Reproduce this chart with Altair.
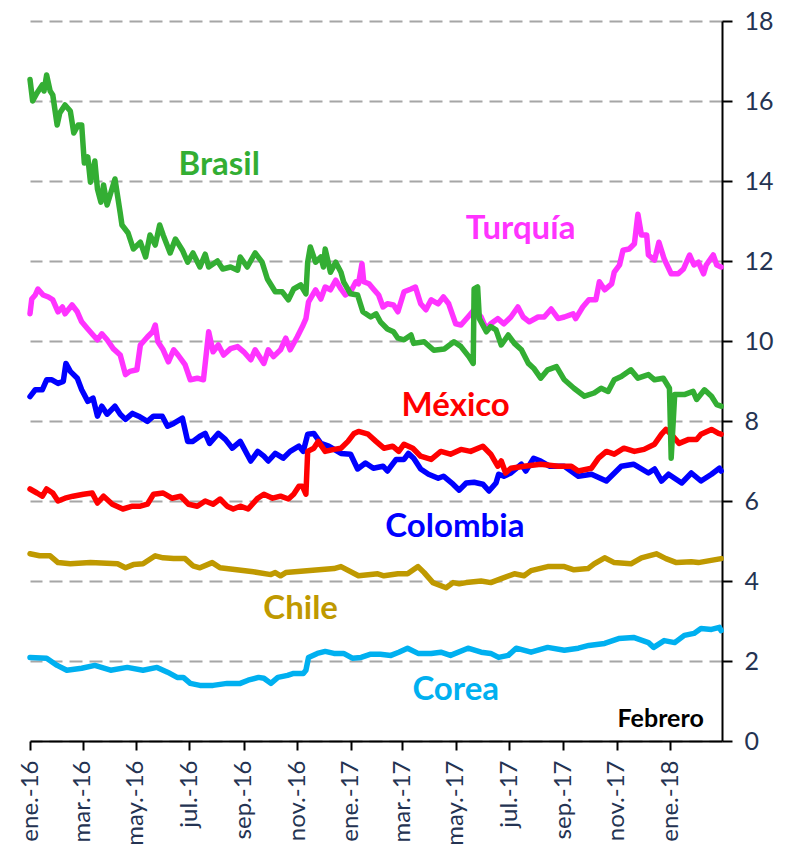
import altair as alt
import pandas as pd

# (days since 2016-01-01, rate %)
BRASIL = [(0,16.54),(3,16.0),(8,16.2),(14,16.4),(16,16.25),(19,16.65),(23,16.25),(26,16.15),(31,15.4),(34,15.7),
          (40,15.9),(46,15.75),(50,15.2),(55,15.4),(59,15.4),(62,14.45),(66,14.6),(69,13.97),(74,14.5),(77,13.8),
          (81,13.47),(84,13.9),(88,13.4),(97,14.05),(103,13.2),(105,12.9),(112,12.7),(118,12.3),(126,12.47),(132,12.1),
          (137,12.65),(143,12.4),(148,12.9),(152,12.65),(160,12.2),(166,12.55),(174,12.27),(180,11.97),(186,12.2),(194,11.85),
          (200,12.17),(204,11.85),(214,12.0),(220,11.8),(229,11.85),(237,11.77),(240,12.1),(248,11.85),(257,12.2),(265,11.97),
          (271,11.55),(280,11.23),(288,11.23),(295,11.03),(301,11.3),(309,11.4),(315,11.18),(317,11.97),(320,12.35),(326,11.97),
          (332,12.1),(335,11.85),(337,12.3),(343,11.72),(349,11.97),(355,11.72),(358,11.48),(366,11.18),(374,11.15),(380,10.73),
          (389,10.6),(395,10.68),(400,10.48),(408,10.3),(415,10.23),(420,10.07),(427,10.03),(435,10.15),(438,9.94),(450,9.98),
          (461,9.77),(473,9.8),(484,9.98),(492,9.86),(501,9.61),(506,9.44),(507,11.3),(511,11.35),(513,10.56),(521,10.23),
          (526,10.36),(532,10.28),(538,9.9),(546,10.15),(553,9.94),(561,9.78),(569,9.44),(575,9.32),(583,9.07),(591,9.28),
          (601,9.36),(610,9.03),(621,8.82),(633,8.62),(644,8.7),(652,8.82),(660,8.74),(667,9.03),(675,9.11),(686,9.28),
          (694,9.07),(706,9.16),(713,9.03),(723,9.07),(730,8.82),(732,7.07),(736,8.66),(747,8.66),(757,8.74),(761,8.54),
          (770,8.78),(778,8.62),(784,8.41),(789,8.37)]

TURQUIA = [(0,10.68),(2,11.05),(6,11.15),(9,11.3),(15,11.15),(21,11.1),(26,11.03),(32,10.73),(37,10.85),(40,10.68),
           (48,10.9),(54,10.73),(59,10.48),(66,10.3),(72,10.15),(77,10.03),(82,10.18),(88,10.03),(95,9.81),(103,9.65),
           (109,9.16),(114,9.24),(122,9.28),(126,9.9),(134,10.1),(140,10.23),(143,10.4),(146,9.98),(152,9.78),(158,9.48),
           (164,9.78),(169,9.65),(177,9.41),(183,9.03),(191,9.07),(198,9.03),(204,10.23),(209,9.73),(215,9.9),(221,9.65),
           (229,9.81),(237,9.86),(244,9.73),(252,9.53),(257,9.78),(267,9.44),(272,9.78),(278,9.61),(286,9.78),(292,10.07),
           (297,9.78),(305,10.1),(311,10.36),(315,10.56),(318,10.98),(326,11.28),(332,11.05),(337,11.35),(343,11.28),(349,11.52),
           (355,11.3),(360,11.15),(366,11.23),(372,11.48),(375,11.43),(379,11.93),(381,11.48),(387,11.43),(392,11.3),(398,11.15),
           (403,10.85),(408,10.93),(415,10.9),(420,10.73),(427,11.23),(435,11.3),(440,11.35),(446,10.93),(452,10.78),(458,11.03),
           (466,10.93),(472,11.1),(478,10.93),(486,10.43),(492,10.4),(500,10.6),(507,10.78),(515,10.6),(521,10.3),(526,10.43),
           (534,10.56),(541,10.43),(549,10.6),(557,10.85),(563,10.6),(570,10.48),(580,10.6),(587,10.6),(595,10.8),(603,10.56),
           (610,10.6),(620,10.68),(623,10.56),(631,10.85),(638,11.03),(646,11.03),(650,11.48),(656,11.28),(664,11.43),(667,11.72),
           (673,11.9),(677,12.27),(684,12.3),(690,12.43),(694,13.17),(698,12.65),(704,12.65),(706,12.15),(713,12.02),(718,12.47),
           (724,12.05),(732,11.68),(740,11.68),(746,11.8),(753,12.15),(758,11.9),(763,11.97),(769,11.68),(772,11.9),(780,12.15),
           (784,11.9),(789,11.85)]

MEXICO = [(0,6.3),(8,6.2),(14,6.12),(19,6.3),(26,6.2),(32,6.0),(40,6.07),(49,6.12),(61,6.17),(71,6.2),
          (77,5.95),(84,6.12),(94,5.92),(106,5.8),(117,5.87),(126,5.87),(134,5.92),(141,6.17),(152,6.2),(162,6.07),
          (172,6.12),(181,5.92),(191,5.87),(200,6.0),(209,5.92),(217,6.05),(225,5.87),(232,5.8),(240,5.87),(249,5.8),
          (260,6.07),(267,6.17),(277,6.07),(286,6.12),(295,6.05),(301,6.17),(307,6.37),(311,6.37),(315,6.17),(317,7.24),
          (324,7.32),(329,7.49),(337,7.24),(347,7.29),(355,7.32),(363,7.49),(370,7.69),(375,7.74),(386,7.67),(395,7.49),
          (404,7.32),(414,7.37),(421,7.24),(427,7.42),(437,7.32),(446,7.12),(458,7.04),(469,7.24),(480,7.17),(492,7.29),
          (503,7.24),(517,7.37),(526,7.17),(534,6.87),(538,7.0),(543,6.7),(549,6.82),(564,6.87),(583,6.92),(603,6.87),
          (618,6.87),(626,6.75),(641,6.82),(649,7.07),(658,7.24),(667,7.17),(678,7.32),(690,7.24),(701,7.29),(713,7.42),
          (721,7.67),(726,7.79),(734,7.62),(741,7.44),(752,7.54),(761,7.54),(766,7.67),(778,7.79),(786,7.69),(789,7.67)]

COLOMBIA = [(0,8.61),(6,8.78),(14,8.78),(19,9.03),(25,9.03),(32,8.94),(38,8.99),(41,9.44),(46,9.24),(54,9.07),
            (59,8.78),(66,8.49),(72,8.57),(77,8.12),(82,8.37),(88,8.17),(97,8.37),(103,8.17),(109,8.04),(117,8.19),
            (124,8.12),(134,7.99),(141,8.12),(151,8.12),(157,7.87),(164,7.94),(174,8.07),(180,7.49),(186,7.49),(194,7.62),
            (200,7.69),(205,7.44),(215,7.69),(223,7.54),(231,7.32),(240,7.49),(252,7.0),(260,7.24),(267,7.12),(272,7.0),
            (280,7.19),(289,7.07),(297,7.24),(307,7.37),(312,7.24),(317,7.67),(324,7.69),(332,7.44),(341,7.37),(355,7.19),
            (366,7.17),(374,6.8),(383,6.95),(392,6.82),(403,6.87),(408,6.75),(418,7.04),(427,7.04),(432,7.19),(438,7.07),
            (446,6.8),(455,6.67),(466,6.57),(472,6.62),(483,6.42),(490,6.27),(498,6.45),(507,6.47),(517,6.42),(524,6.25),
            (532,6.45),(535,6.67),(541,6.62),(549,6.7),(561,6.92),(566,6.75),(575,7.07),(583,7.0),(593,6.87),(610,6.87),
            (626,6.62),(641,6.67),(658,6.5),(675,6.87),(689,6.92),(706,6.7),(713,6.8),(721,6.5),(729,6.67),(744,6.45),
            (755,6.7),(766,6.5),(778,6.67),(787,6.82),(789,6.75)]

CHILE = [(0,4.68),(11,4.63),(23,4.63),(32,4.46),(46,4.43),(69,4.46),(100,4.43),(109,4.33),(118,4.41),(129,4.43),
         (143,4.63),(152,4.58),(164,4.56),(177,4.56),(186,4.38),(194,4.33),(208,4.46),(217,4.33),(255,4.23),(275,4.16),
         (280,4.21),(286,4.13),(292,4.21),(347,4.31),(355,4.36),(375,4.13),(397,4.18),(404,4.13),(420,4.18),(431,4.18),
         (443,4.36),(450,4.21),(460,3.96),(475,3.83),(483,3.96),(490,3.93),(498,3.96),(515,4.0),(526,3.96),(538,4.06),
         (553,4.18),(564,4.13),(572,4.26),(591,4.36),(610,4.36),(621,4.28),(637,4.31),(644,4.43),(656,4.58),(667,4.46),
         (686,4.43),(698,4.58),(715,4.68),(726,4.56),(738,4.46),(755,4.48),(763,4.46),(789,4.56)]

COREA = [(0,2.09),(19,2.07),(31,1.89),(42,1.77),(59,1.82),(74,1.89),(92,1.77),(111,1.84),(129,1.77),(145,1.84),
         (157,1.72),(168,1.59),(175,1.59),(183,1.44),(194,1.39),(209,1.39),(225,1.44),(240,1.44),(249,1.52),(261,1.59),
         (267,1.57),(275,1.44),(283,1.59),(294,1.64),(301,1.69),(312,1.69),(315,1.77),(318,2.09),(328,2.19),(337,2.24),
         (347,2.19),(358,2.19),(368,2.07),(378,2.09),(389,2.17),(400,2.17),(412,2.14),(421,2.22),(431,2.32),(443,2.19),
         (458,2.19),(469,2.22),(480,2.14),(500,2.32),(515,2.22),(526,2.19),(535,2.09),(546,2.14),(555,2.32),(572,2.22),
         (591,2.34),(610,2.27),(626,2.32),(638,2.39),(656,2.44),(672,2.56),(689,2.59),(706,2.46),(712,2.34),(724,2.51),
         (736,2.46),(747,2.64),(758,2.69),(766,2.81),(778,2.79),(787,2.84),(789,2.76)]

# draw order (last on top)
SERIES = [("Corea", COREA, "#00B0F0"), ("Chile", CHILE, "#BF9900"), ("Colombia", COLOMBIA, "#0000FF"),
          ("México", MEXICO, "#FF0000"), ("Turquía", TURQUIA, "#FF33FF"), ("Brasil", BRASIL, "#33AE33")]

LABEL_NAMES = ["Brasil", "Turquía", "México", "Colombia", "Chile", "Corea"]
LABEL_DAYS = [216, 560, 486, 485, 309, 486]
LABEL_VALUES = [14.15, 12.55, 8.12, 5.10, 3.06, 1.02]
LABEL_COLORS = ["#33AE33", "#FF33FF", "#FF0000", "#0000FF", "#BF9900", "#00B0F0"]

NOTE_TEXT = ["Febrero"]
NOTE_DAYS = [720]
NOTE_VALUES = [0.36]

START = pd.Timestamp("2016-01-01")
Y_TICKS = list(range(0, 19, 2))
TICK_MONTHS = [(2016, m) for m in (1, 3, 5, 7, 9, 11)] + [(2017, m) for m in (1, 3, 5, 7, 9, 11)] + [(2018, 1)]
MONTH_ABBR = "['ene.','feb.','mar.','abr.','may.','jun.','jul.','ago.','sep.','oct.','nov.','dic.']"

x_scale = alt.Scale(domain=[alt.DateTime(year=2016, month=1, date=1),
                            alt.DateTime(year=2018, month=3, date=1)])
y_scale = alt.Scale(domain=[0, 18], nice=False)

x_axis = alt.Axis(
    title=None,
    values=[alt.DateTime(year=y, month=m, date=1) for y, m in TICK_MONTHS],
    labelExpr=MONTH_ABBR + "[month(datum.value)] + '-' + timeFormat(datum.value, '%y')",
    labelAngle=270, labelFont="Lato", labelFontSize=24, labelColor="#243352",
    labelPadding=10, labelOverlap=False, labelFlush=False,
    tickSize=9, tickColor="black", tickWidth=2,
    domainColor="black", domainWidth=2, grid=False,
)
y_axis = alt.Axis(
    title=None, orient="right", values=Y_TICKS,
    labelFont="Lato", labelFontSize=25, labelColor="#243352", labelPadding=12,
    tickSize=10, tickColor="black", tickWidth=2,
    domainColor="black", domainWidth=2,
    grid=True, gridColor="#A6A6A6", gridDash=[13, 7], gridWidth=2,
)

X_ENC = alt.X("fecha:T", scale=x_scale, axis=x_axis)
Y_ENC = alt.Y("tasa:Q", scale=y_scale, axis=y_axis)


def frame(pairs, name):
    return pd.DataFrame({
        "fecha": [START + pd.Timedelta(days=d) for d, _ in pairs],
        "tasa": [v for _, v in pairs],
        "pais": name,
    })


layers = []
for name, pairs, color in SERIES:
    layers.append(
        alt.Chart(frame(pairs, name))
        .mark_line(color=color, strokeWidth=5.5, strokeJoin="round", strokeCap="round")
        .encode(x=X_ENC, y=Y_ENC)
    )

labels_df = pd.DataFrame({
    "pais": LABEL_NAMES,
    "fecha": [START + pd.Timedelta(days=d) for d in LABEL_DAYS],
    "tasa": LABEL_VALUES,
    "color": LABEL_COLORS,
})
labels = alt.Chart(labels_df).mark_text(
    font="Lato", fontWeight="bold", fontSize=33, align="center", baseline="alphabetic"
).encode(
    x=X_ENC, y=Y_ENC,
    text="pais:N",
    color=alt.Color("color:N", scale=None),
)

note_df = pd.DataFrame({
    "texto": NOTE_TEXT,
    "fecha": [START + pd.Timedelta(days=d) for d in NOTE_DAYS],
    "tasa": NOTE_VALUES,
})
note = alt.Chart(note_df).mark_text(
    font="Lato", fontWeight="bold", fontSize=25, align="center", baseline="alphabetic", color="black"
).encode(
    x=X_ENC, y=Y_ENC,
    text="texto:N",
)

chart = alt.layer(*layers, labels, note).properties(
    width=692, height=720,
    autosize=alt.AutoSizeParams(type="none"),
    padding={"left": 22, "top": 13, "right": 56, "bottom": 110},
    background="white",
).configure_view(strokeWidth=0)

chart.save("out.html", embed_options={"renderer": "svg", "actions": False})
